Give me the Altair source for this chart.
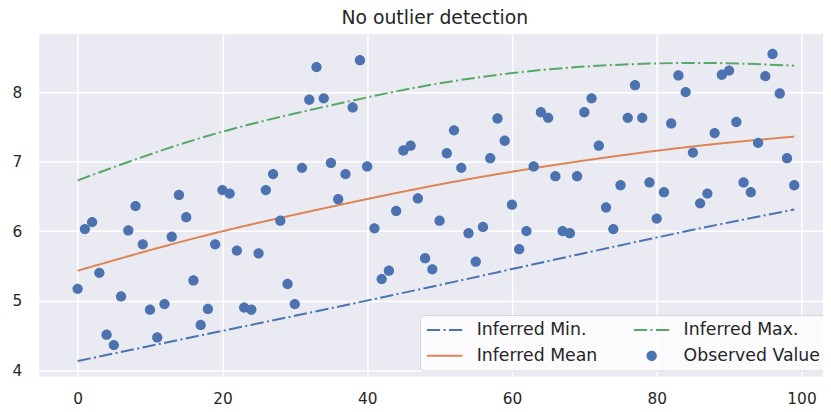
import altair as alt
import pandas as pd

# ---- data ----
obs_x = list(range(100))
obs_y = [5.17, 6.03, 6.13, 5.40, 4.51, 4.36, 5.06, 6.01, 6.36, 5.81,
         4.87, 4.47, 4.95, 5.92, 6.52, 6.20, 5.29, 4.65, 4.88, 5.81,
         6.59, 6.54, 5.72, 4.90, 4.87, 5.68, 6.59, 6.82, 6.15, 5.24,
         4.95, 6.91, 7.89, 8.36, 7.91, 6.98, 6.46, 6.82, 7.78, 8.46,
         6.93, 6.04, 5.31, 5.43, 6.29, 7.16, 7.23, 6.47, 5.61, 5.45,
         6.15, 7.12, 7.45, 6.91, 5.97, 5.56, 6.06, 7.05, 7.62, 7.30,
         6.38, 5.74, 6.00, 6.93, 7.71, 7.63, 6.79, 6.00, 5.97, 6.79,
         7.71, 7.91, 7.23, 6.34, 6.03, 6.66, 7.63, 8.10, 7.63, 6.70,
         6.18, 6.56, 7.55, 8.24, 8.00, 7.13, 6.40, 6.54, 7.41, 8.25,
         8.31, 7.57, 6.70, 6.56, 7.27, 8.23, 8.55, 7.98, 7.05, 6.66]

curve_x = [0, 17, 35, 52, 69, 86, 99]
min_y = [4.13, 4.50, 4.89, 5.27, 5.66, 6.04, 6.31]
mean_y = [5.43, 5.92, 6.35, 6.71, 7.00, 7.23, 7.36]
max_y = [6.73, 7.34, 7.81, 8.16, 8.36, 8.42, 8.38]

series_names = ["Inferred Min.", "Inferred Mean", "Inferred Max.", "Observed Value"]
series_colors = ["#4C72B0", "#DD8452", "#55A868", "#4C72B0"]
x_ticks = [0, 20, 40, 60, 80, 100]
y_ticks = [4, 5, 6, 7, 8]
title_text = "No outlier detection"

# ---- tables ----
rows = []
for name, ys in zip(series_names[:3], [min_y, mean_y, max_y]):
    for xv, yv in zip(curve_x, ys):
        rows.append({"x": xv, "y": yv, "series": name})
lines_df = pd.DataFrame(rows)
points_df = pd.DataFrame({"x": obs_x, "y": obs_y, "series": series_names[3]})

FONT = "DejaVu Sans"
TXT = "#262626"
DASH = [13.4, 3.4, 2.1, 3.4]
SOLID = [1, 0]
line_path = "M-4.5,0H4.5"


def ring(r):
    return f"M{-r},0A{r},{r},0,1,1,{r},0A{r},{r},0,1,1,{-r},0Z"


# concentric rings: filled disk when filled, and also when stroked (legend)
disk_path = ring(1.05) + ring(0.6) + ring(0.15)

legend = alt.Legend(
    title=None, orient="none", legendX=385, legendY=284, columns=2,
    symbolSize=64, symbolStrokeWidth=2, symbolOffset=10.25,
    labelOffset=23.5, labelFont=FONT, labelFontSize=17.5, labelColor=TXT,
    labelLimit=400, rowPadding=7.5, columnPadding=32, padding=6,
    fillColor="rgba(255,255,255,0.8)", strokeColor="rgba(204,204,204,0.8)",
    cornerRadius=4, symbolOpacity=1,
)

color_enc = alt.Color("series:N",
                      scale=alt.Scale(domain=series_names, range=series_colors),
                      legend=legend)
dash_enc = alt.StrokeDash("series:N",
                          scale=alt.Scale(domain=series_names, range=[DASH, SOLID, DASH, SOLID]),
                          legend=legend)
shape_enc = alt.Shape("series:N",
                      scale=alt.Scale(domain=series_names,
                                      range=[line_path, line_path, line_path, disk_path]),
                      legend=legend)

x_enc = alt.X("x:Q",
              scale=alt.Scale(domain=[-5.38, 102.97], nice=False, zero=False),
              axis=alt.Axis(values=x_ticks, title=None, labelPadding=15, labelFlush=False))
y_enc = alt.Y("y:Q",
              scale=alt.Scale(domain=[3.91, 8.84], nice=False, zero=False),
              axis=alt.Axis(values=y_ticks, title=None, labelPadding=17))

lines = alt.Chart(lines_df).mark_line(strokeWidth=2, interpolate="monotone").encode(
    x=x_enc, y=y_enc, color=color_enc, strokeDash=dash_enc,
)

points = alt.Chart(points_df).mark_point(filled=True, size=98, opacity=1).encode(
    x=x_enc, y=y_enc, color=color_enc, shape=shape_enc,
)

chart = alt.layer(lines, points).properties(
    width=792, height=346,
    autosize=alt.AutoSizeParams(type="none"),
    padding={"left": 31, "top": 24, "right": 0, "bottom": 34},
    title=alt.TitleParams(title_text, font=FONT, fontSize=19, fontWeight="normal",
                          color=TXT, anchor="middle", frame="group",
                          baseline="alphabetic", offset=11, dx=4, dy=20),
).configure_view(
    fill="#EAEAF2", stroke="transparent"
).configure_axis(
    domain=False, ticks=False, tickSize=0, grid=True, gridColor="#FFFFFF",
    gridWidth=1.5, labelFont=FONT, labelFontSize=15.5, labelColor=TXT,
)

chart.save("out.html", embed_options={"renderer": "svg", "actions": False})
